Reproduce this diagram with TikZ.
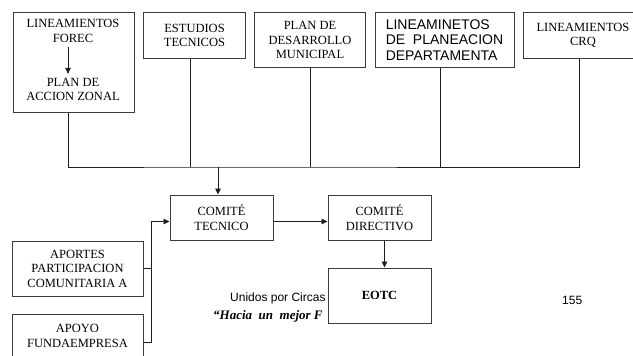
\documentclass[tikz,border=0pt]{standalone}
\usepackage{fontspec}
\setmainfont{Liberation Serif}
\newfontfamily\arialfam{Liberation Sans}
\usepackage{xcolor}
\usetikzlibrary{positioning,arrows.meta}
\definecolor{marco}{HTML}{3C3C3C}
\definecolor{traza}{HTML}{1E1E1E}
\tikzset{
  caja/.style   = {rectangle, draw=marco, fill=white, line width=1pt, inner sep=4pt,
                   align=center, font=\fontsize{12.5}{14.5}\selectfont},
  texto/.style  = {align=center, inner sep=4pt, font=\fontsize{12.5}{14.5}\selectfont},
  flecha/.style = {-{Triangle[length=6pt,width=5.5pt]}, line width=0.9pt, draw=traza},
  linea/.style  = {line width=0.9pt, draw=traza},
  pie/.style    = {font=\arialfam\fontsize{12}{14}\selectfont, inner sep=0pt, anchor=west},
}

\begin{document}
\begin{tikzpicture}[x=1pt, y=-1pt]
  \clip (0,0) rectangle (633,356);
  % page footer, partly hidden by the EOTC box
  \node[pie] (unidos) at (230,298) {Unidos por Circas};
  \node[pie] (pagina) at (562,300) {155};
  \node[pie, font=\bfseries\itshape\fontsize{13}{15}\selectfont] (lema) at (213,316) {“Hacia \ un \ mejor F};

  % sources
  \node[caja, minimum width=121pt, minimum height=100pt, anchor=north west] (zona) at (13,12) {};
  \node[texto] (forec) at (73,31) {LINEAMIENTOS\\FOREC};
  \node[texto] (accion) at (73,89.5) {PLAN DE\\ACCION ZONAL};
  \node[caja, minimum width=102pt, minimum height=46pt, anchor=north west] (estudios) at ([xshift=8pt]zona.north east) {ESTUDIOS\\TECNICOS};
  \node[caja, minimum width=111pt, minimum height=55pt, anchor=north west] (plan) at ([xshift=8pt]estudios.north east) {PLAN DE\\DESARROLLO\\MUNICIPAL};
  \node[caja, minimum width=139pt, minimum height=55pt, anchor=north west, align=left,
        font=\arialfam\fontsize{14}{15.5}\selectfont] (depto) at ([xshift=8.5pt]plan.north east) {LINEAMINETOS\\DE \ PLANEACION\\DEPARTAMENTA};
  \node[caja, minimum width=120pt, minimum height=46pt, anchor=north west] (crq) at ([xshift=8pt]depto.north east) {LINEAMIENTOS\\CRQ};

  % committees
  \node[caja, minimum width=103pt, minimum height=45pt] (tecnico) at (221.5,217.5) {COMITÉ\\TECNICO};
  \node[caja, minimum width=103pt, minimum height=45pt, right=54pt of tecnico] (directivo) {COMITÉ\\DIRECTIVO};
  \node[caja, minimum width=103pt, minimum height=55pt, below=27pt of directivo, font=\bfseries\fontsize{12.5}{14.5}\selectfont] (eotc) {EOTC};

  % support
  \node[caja, minimum width=131pt, minimum height=55pt] (aportes) at (77.5,268.5) {APORTES\\PARTICIPACION\\COMUNITARIA A};
  \node[caja, minimum width=131pt, minimum height=44pt, below=17pt of aportes] (apoyo) {APOYO\\FUNDAEMPRESA};

  \coordinate (bus) at (218,167);
  \coordinate (union) at ([xshift=-18pt,yshift=-4pt]tecnico.west);

  \draw[flecha] ([xshift=-5pt]forec.south) -- ([xshift=-5pt]accion.north);
  \draw[linea] ([xshift=-5.5pt]zona.south) |- (bus) -| ([xshift=-4pt]crq.south);
  \foreach \n/\dx in {estudios/-4.5, plan/0, depto/-4.5}
    \draw[linea] ([xshift=\dx pt]\n.south) -- ([xshift=\dx pt]\n.south |- bus);
  \draw[flecha] (bus) -- (bus |- tecnico.north);
  \draw[flecha] ([yshift=-4pt]tecnico.east) -- ([yshift=-4pt]directivo.west);
  \draw[flecha] ([xshift=5pt]directivo.south) -- ([xshift=5pt]eotc.north);
  \draw[flecha] ([yshift=-6pt]apoyo.east) -| (union) -- ([yshift=-4pt]tecnico.west);
  \draw[linea] (aportes.east) -- (aportes.east -| union);
\end{tikzpicture}
\end{document}
